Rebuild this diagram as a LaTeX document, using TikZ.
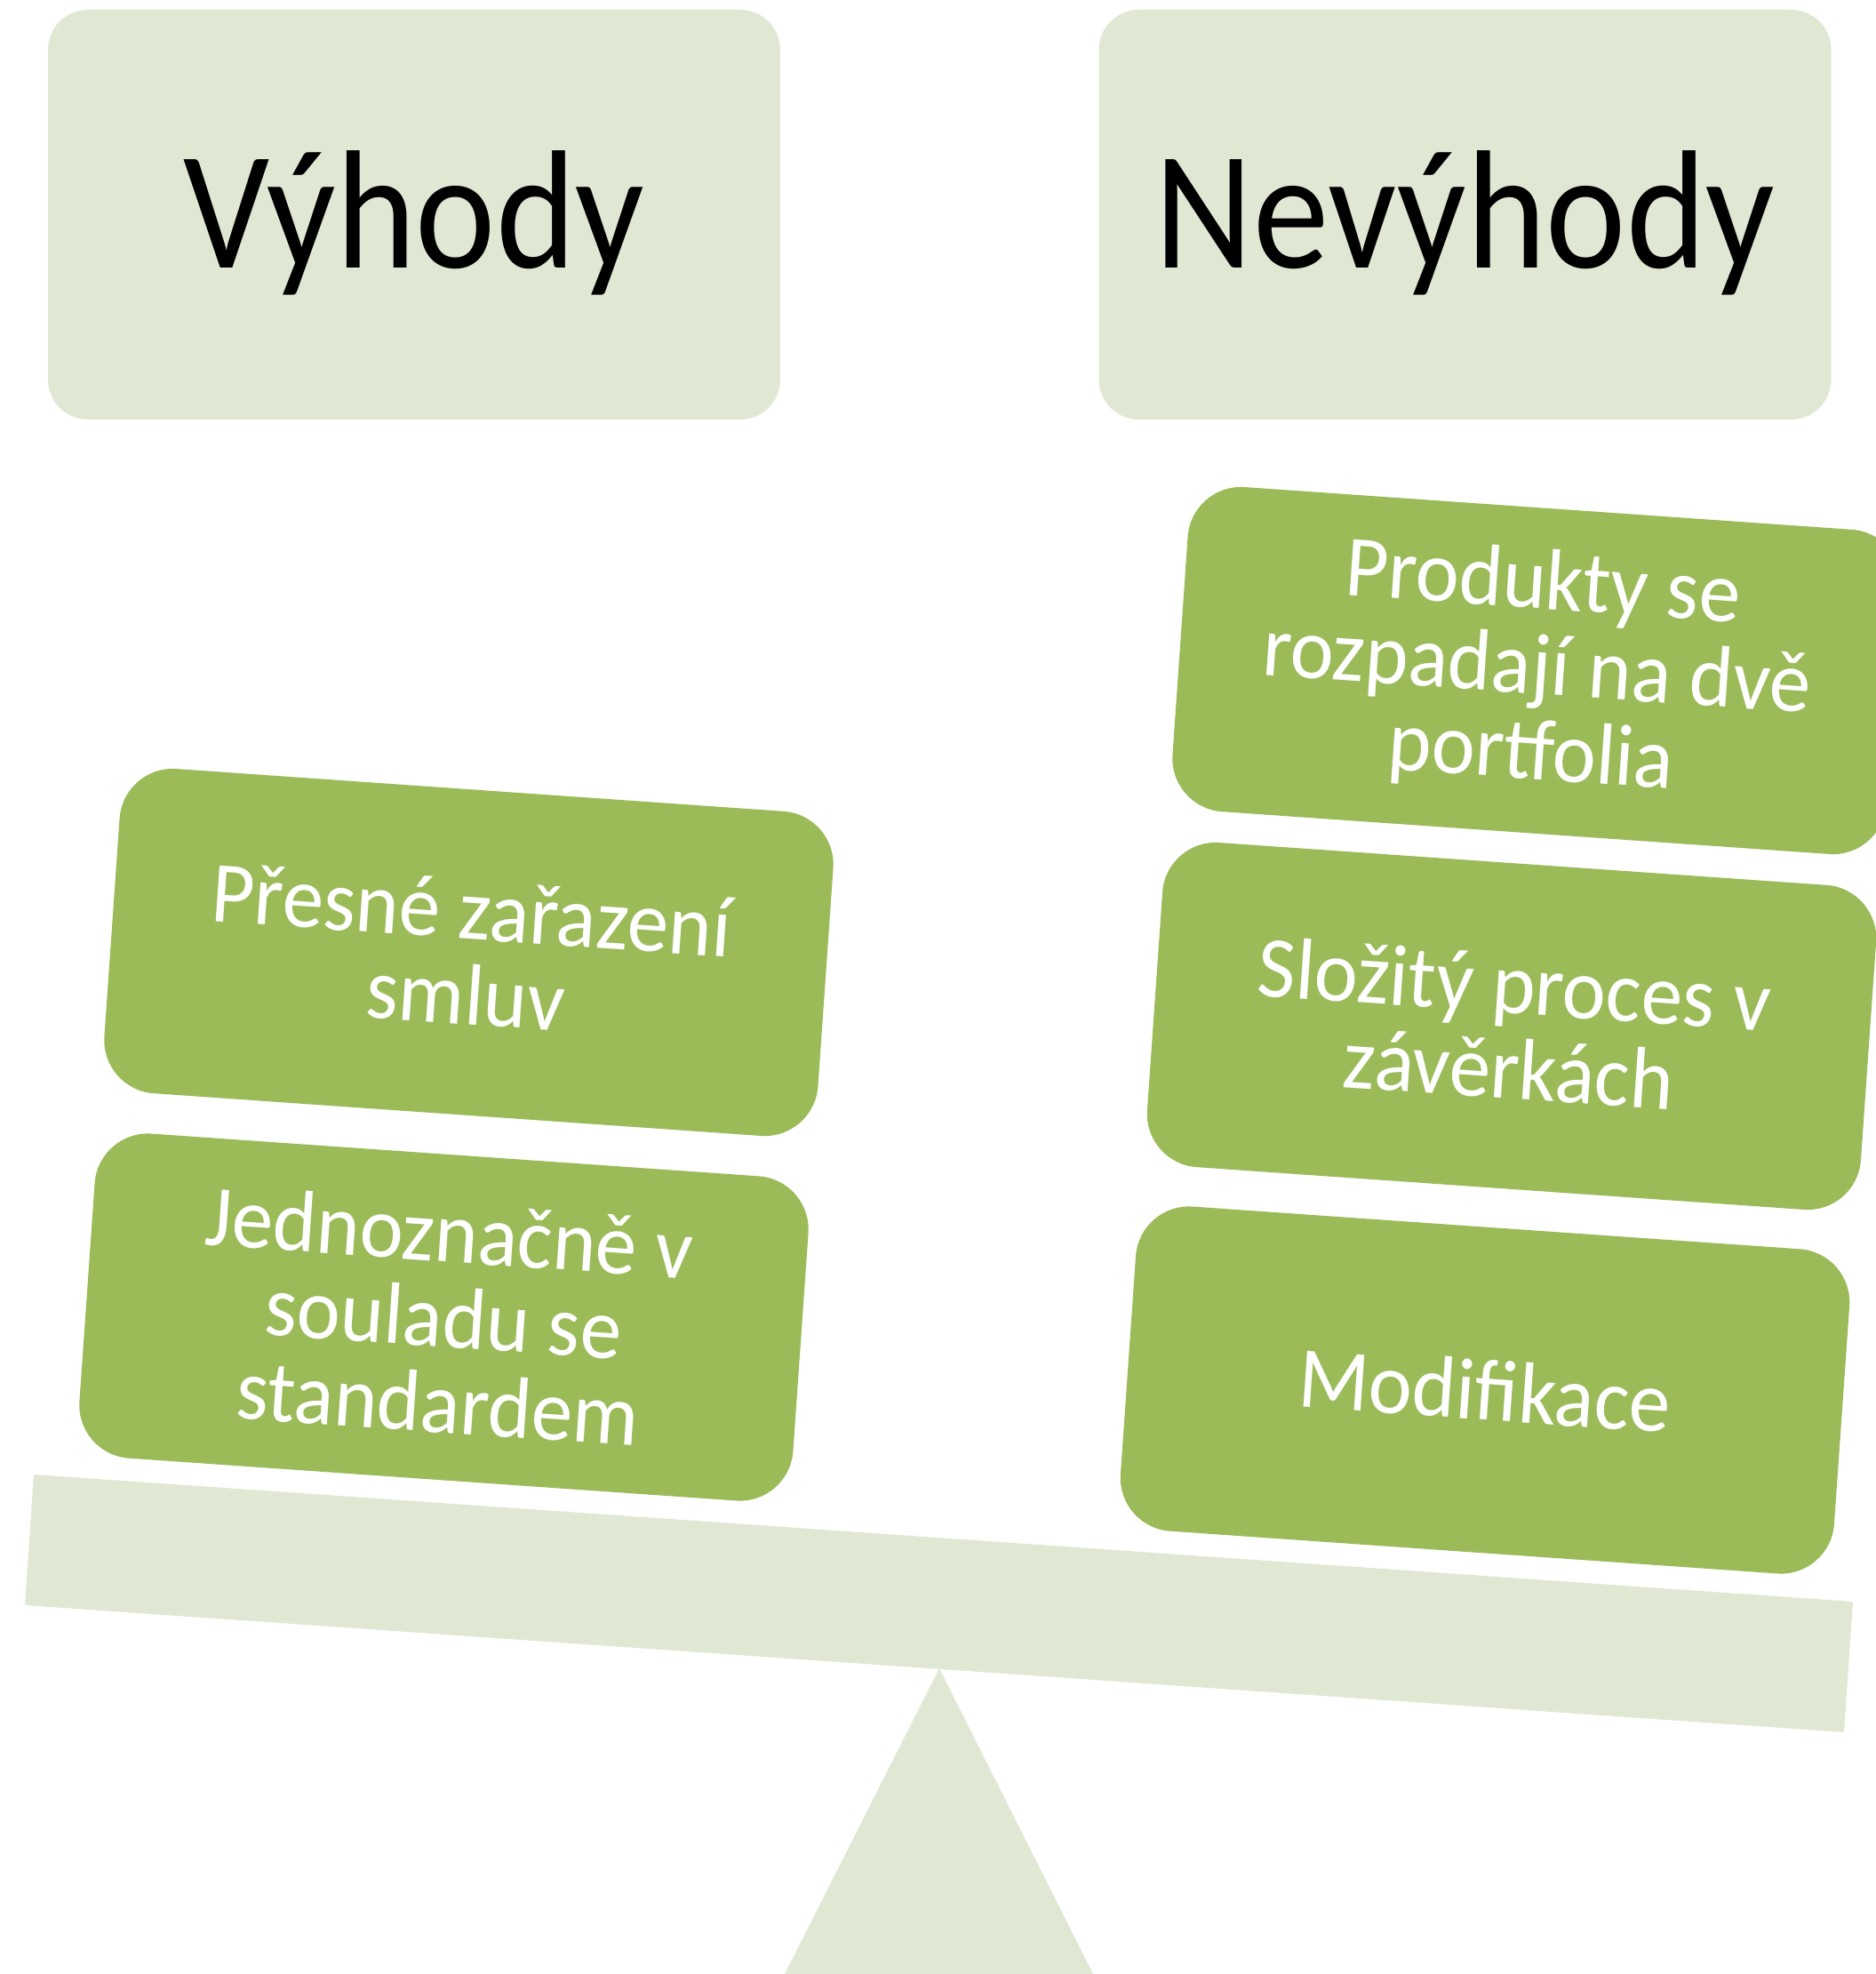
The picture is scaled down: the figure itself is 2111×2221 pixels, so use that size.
\documentclass[tikz,border=0pt]{standalone}
\usepackage{fontspec}
\setmainfont{Carlito}
\newfontfamily\headfont[FakeStretch=0.9]{Carlito}
\newfontfamily\itemfont[FakeStretch=0.95]{Carlito}
\definecolor{lightgreen}{HTML}{E0E8D4}
\definecolor{olivegreen}{HTML}{9BBB59}
\tikzset{
  headbox/.style={fill=lightgreen, rounded corners=45pt, minimum width=824pt, minimum height=461pt,
    inner sep=0pt, text height=120pt, text depth=0pt, font=\headfont\fontsize{190}{190}\selectfont},
  gbox/.style={fill=olivegreen, rounded corners=60pt, minimum width=805pt, minimum height=366pt,
    rotate=-4, text=white, align=center, inner sep=0pt, font=\itemfont\fontsize{98}{96}\selectfont},
  lightshape/.style={fill=lightgreen}
}
\begin{document}
\begin{tikzpicture}[x=1pt,y=-1pt]
\useasboundingbox (0,0) rectangle (2111,2221);
% fulcrum and beam
\fill[lightshape] (1057,1877) -- (883,2221) -- (1230,2221) -- cycle;
\fill[lightshape, rounded corners=2pt] (38,1659) -- (2085,1802) -- (2075,1949) -- (28,1806) -- cycle;
% headings
\node[headbox] (vyhody) at (466,241.5) {Výhody};
\node[headbox] (nevyhody) at (1648.5,241.5) {Nevýhody};
% items
\node[gbox] (presne) at (527.5,1071.5) {Přesné zařazení\\smluv};
\node[gbox] (jedno) at (499.5,1482) {Jednoznačně v\\souladu se\\standardem};
\node[gbox] (produkty) at (1729.5,754.5) {Produkty se\\rozpadají na dvě\\portfolia};
\node[gbox] (slozity) at (1701,1154.5) {Složitý proces v\\závěrkách};
\node[gbox] (modif) at (1671,1564) {Modifikace};
\end{tikzpicture}
\end{document}
